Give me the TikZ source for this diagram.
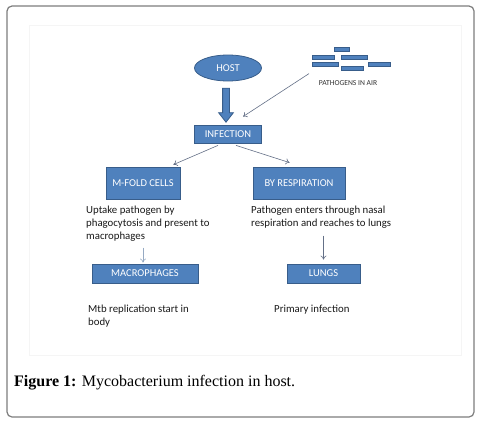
\documentclass[tikz,border=0pt]{standalone}
\usepackage{fontspec}
\setmainfont{Carlito}
\newfontfamily\capfont{Liberation Serif}
\usetikzlibrary{shapes.geometric,shapes.arrows,arrows.meta,calc}
\definecolor{boxblue}{RGB}{79,129,189}
\definecolor{boxedge}{RGB}{56,93,138}
\definecolor{connc}{RGB}{100,112,135}
\definecolor{lightconn}{RGB}{150,170,195}
\definecolor{framec}{RGB}{125,125,125}
\begin{document}
\begin{tikzpicture}[x=1pt,y=-1pt,
  bluebox/.style={rectangle, fill=boxblue, draw=boxedge, line width=0.8pt, text=white, font=\fontsize{10.5}{12}\selectfont, inner sep=0pt},
  bodytext/.style={font=\fontsize{10.8}{13}\selectfont, text=black!90, align=left, anchor=north west, inner sep=0pt},
  conn/.style={draw=connc, line width=0.6pt, -{To[length=4pt,width=6pt]}},
  bar/.style={rectangle, fill=boxblue, draw=boxedge, line width=0.6pt, inner sep=0pt, anchor=north west, minimum height=4pt}]
\useasboundingbox (0,0) rectangle (482,426);
\fill[white] (0,0) rectangle (482,426);
\draw[framec, line width=1.2pt, rounded corners=5pt] (7,6) rectangle (474,417);
\draw[black!4, line width=1pt] (29,25) rectangle (461,355);

% pathogen bars
\node[bar, minimum width=15pt] (p1) at (334,47) {};
\node[bar, minimum width=22pt] (p2) at (312,55) {};
\node[bar, minimum width=26pt] (p3) at (341,55) {};
\node[bar, minimum width=26pt] (p4) at (312,62) {};
\node[bar, minimum width=22pt] (p5) at (341,66) {};
\node[bar, minimum width=22pt] (p6) at (368,62) {};
\node[font=\fontsize{7.6}{8}\selectfont, text=black!80, inner sep=0pt] (air) at (348,83) {PATHOGENS IN AIR};

% boxes
\node[ellipse, fill=boxblue, draw=boxedge, line width=0.8pt, minimum width=67pt, minimum height=26pt, inner sep=0pt, text=white, font=\fontsize{10.5}{12}\selectfont] (host) at (228,68) {HOST};
\node[bluebox, minimum width=67pt, minimum height=18pt] (inf) at (228,134) {INFECTION};
\node[bluebox, minimum width=74pt, minimum height=32pt] (mfold) at (143,183) {M-FOLD CELLS};
\node[bluebox, minimum width=92pt, minimum height=32pt] (resp) at (299,183) {BY RESPIRATION};
\node[bluebox, minimum width=106pt, minimum height=19pt] (macro) at (145,273.5) {MACROPHAGES};
\node[bluebox, minimum width=73pt, minimum height=19pt] (lungs) at (323.5,273.5) {LUNGS};

% texts
\node[bodytext] (uptake) at (86,206) {Uptake pathogen by\\phagocytosis and present to\\macrophages};
\node[bodytext] (enter) at (251,206) {Pathogen enters through nasal\\respiration and reaches to lungs};
\node[bodytext] (mtb) at (88,305) {Mtb replication start in\\body};
\node[bodytext] (prim) at (274,305) {Primary infection};

% block arrow host -> infection
\node[single arrow, draw=boxedge, fill=boxblue, line width=0.8pt, rotate=-90, minimum height=34pt, minimum width=14pt, single arrow head extend=4pt, single arrow tip angle=76, inner sep=3pt] (harrow) at ($(host.south)!0.5!(inf.north)+(-2,0)$) {};

% connectors
\draw[conn] ($(p4.south west)+(-3,7)$) -- ($(inf.north)+(15,-8)$);
\draw[conn] ($(inf.south)+(-10,2)$) -- ($(mfold.north east)+(-7,-2)$);
\draw[conn] ($(inf.south)+(8,2)$) -- ($(resp.north west)+(37,-4)$);
\draw[conn, draw=lightconn] ($(macro.north)+(-2,-16)$) -- ($(macro.north)+(-2,-1)$);
\draw[conn] ($(lungs.north)+(0,-28)$) -- ($(lungs.north)+(0,-4)$);

% caption
\node[anchor=base west, font=\capfont\fontsize{16}{18}\selectfont, inner sep=0pt] (cap) at (14,386) {\textbf{Figure 1:} Mycobacterium infection in host.};
\end{tikzpicture}
\end{document}
